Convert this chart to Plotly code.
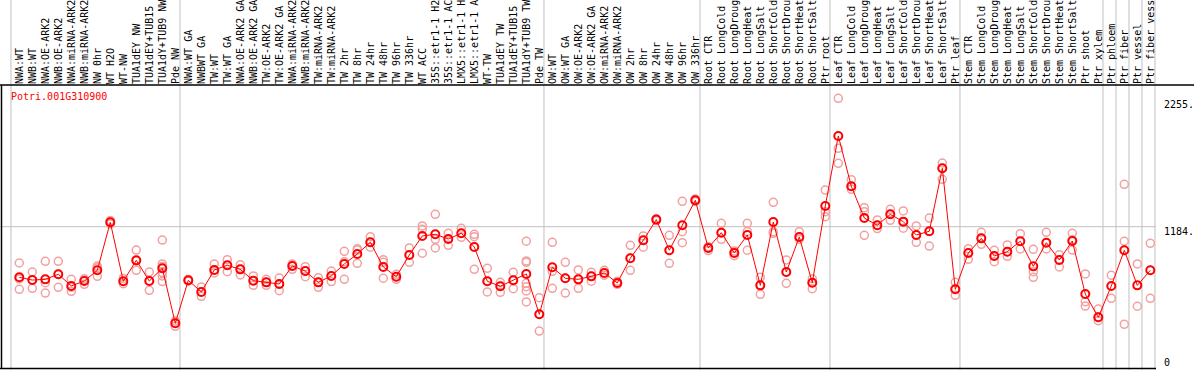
import plotly.graph_objects as go

gene_title = "Potri.001G310900"

labels = [
    "NWA:WT", "NWB:WT", "NWA:OE-ARK2", "NWB:OE-ARK2", "NWA:miRNA-ARK2", "NWB:miRNA-ARK2",
    "NW 0hr", "WT H2O", "WT-NW", "TUA1dEY NW", "TUA1dEY+TUB15", "TUA1dY+TUB9 NW", "Pde NW",
    "NWA:WT GA", "NWBWT GA", "TW:WT", "TW:WT GA", "NWA:OE-ARK2 GA", "NWB:OE-ARK2 GA",
    "TW:OE-ARK2", "TW:OE-ARK2 GA", "NWA:miRNA-ARK2", "NWB:miRNA-ARK2", "TW:miRNA-ARK2",
    "TW:miRNA-ARK2", "TW 2hr", "TW 8hr", "TW 24hr", "TW 48hr", "TW 96hr", "TW 336hr", "WT ACC",
    "35S::etr1-1 H2O", "35S::etr1-1 ACC", "LMX5::etr1-1 H2O", "LMX5::etr1-1 ACC", "WT-TW",
    "TUA1dEY TW", "TUA1dEY+TUB15", "TUA1dY+TUB9 TW", "Pde TW",
    "OW:WT", "OW:WT GA", "OW:OE-ARK2", "OW:OE-ARK2 GA", "OW:miRNA-ARK2", "OW:miRNA-ARK2",
    "OW 2hr", "OW 8hr", "OW 24hr", "OW 48hr", "OW 96hr", "OW 336hr",
    "Root CTR", "Root LongCold", "Root LongDrought", "Root LongHeat", "Root LongSalt",
    "Root ShortCold", "Root ShortDrought", "Root ShortHeat", "Root ShortSalt", "Ptr root",
    "Leaf CTR", "Leaf LongCold", "Leaf LongDrought", "Leaf LongHeat", "Leaf LongSalt",
    "Leaf ShortCold", "Leaf ShortDrought", "Leaf ShortHeat", "Leaf ShortSalt", "Ptr leaf",
    "Stem CTR", "Stem LongCold", "Stem LongDrought", "Stem LongHeat", "Stem LongSalt",
    "Stem ShortCold", "Stem ShortDrought", "Stem ShortHeat", "Stem ShortSalt", "Ptr shoot",
    "Ptr xylem", "Ptr phloem", "Ptr fiber", "Ptr vessel", "Ptr fiber vessel",
]

group_sizes = [13, 28, 12, 10, 10, 11, 1, 1, 1, 1]

means = [
    763, 740, 746, 788, 691, 732, 821, 1221, 730, 904, 732, 838, 380,
    738, 641, 824, 863, 829, 735, 721, 707, 857, 815, 721, 774, 874, 957, 1054, 849, 768,
    949, 1107, 1121, 1082, 1129, 1015, 730, 688, 738, 791, 455,
    846, 755, 746, 771, 799, 716, 921, 1071, 1243, 988, 1196, 1404,
    1007, 1134, 965, 1115, 696, 1223, 807, 1098, 718, 1356,
    1939, 1520, 1256, 1196, 1287, 1226, 1115, 1146, 1670, 663,
    965, 1087, 940, 976, 1063, 854, 1051, 907, 1065, 624, 430,
    691, 988, 696, 821,
]

replicates = [
    [882, 749, 663], [807, 742, 671], [896, 718, 632], [896, 788, 680], [746, 680, 646],
    [751, 740, 705], [857, 843, 771], [1235, 1221, 1207], [754, 730, 710], [990, 901, 821],
    [807, 734, 655], [1073, 874, 852, 802, 774, 727], [400, 380, 355],
    [745, 735, 730], [682, 641, 605], [874, 824, 799], [910, 863, 810], [868, 829, 782],
    [774, 735, 696], [746, 721, 696], [757, 707, 652], [874, 857, 829], [851, 815, 768],
    [760, 721, 680], [815, 774, 727], [979, 893, 746], [1001, 990, 879], [1101, 1054, 1013],
    [910, 888, 755], [788, 768, 746], [1007, 949, 888], [1190, 1162, 963], [1287, 1079, 1007],
    [1129, 1082, 1029], [1171, 1129, 1096], [1121, 1101, 829], [838, 730, 641],
    [721, 688, 638], [805, 738, 668], [1063, 899, 888, 713, 685, 649, 558], [593, 455, 316],
    [1054, 813, 671], [888, 755, 632], [824, 746, 671], [805, 771, 730], [821, 799, 780],
    [730, 716, 705], [1029, 921, 821], [1107, 1071, 1013], [1250, 1243, 1235],
    [1112, 988, 879], [1395, 1143, 1051], [1415, 1404, 1393],
    [1018, 1007, 985], [1212, 1134, 1079], [982, 965, 943], [1212, 1145, 988],
    [763, 696, 621], [1387, 1143, 1129], [907, 807, 713], [1143, 1098, 1079],
    [751, 718, 668], [1489, 1309, 1267],
    [2252, 1836, 1711], [1575, 1520, 1495], [1342, 1309, 1112], [1240, 1196, 1168],
    [1329, 1287, 1237], [1315, 1226, 1171], [1190, 1115, 1054], [1256, 1146, 1023],
    [1714, 1670, 1578], [721, 663, 613],
    [1001, 965, 913], [1137, 1087, 1037], [988, 940, 893], [1032, 976, 938],
    [1126, 1063, 999], [996, 810, 763], [1137, 1051, 999], [951, 907, 849],
    [1129, 1075, 990], [791, 560, 524], [499, 430, 402],
    [780, 588], [1537, 1063, 372], [874, 522], [1046, 588],
]

y_ticks = [0, 1184, 2255]
y_tick_text = ["0", "1184.", "2255."]

# ---------------- figure ----------------
W, H = 1194, 370
ML, MR, MT, MB = 2, 38, 85, 1
plot_w = W - ML - MR
plot_h = H - MT - MB
px_per_cat = 13.0
first_center_px = 19.3
x0 = (ML - first_center_px) / px_per_cat
x1 = x0 + plot_w / px_per_cat
y_top = 2363

FONT = "DejaVu Sans Mono"
RED = "#ff0000"
PINK = "#f2a0a0"
GRID = "#c0c0c0"

idx = list(range(len(labels)))
rx, ry = [], []
for i, reps in enumerate(replicates):
    for v in reps:
        rx.append(i)
        ry.append(v)

fig = go.Figure()
fig.add_trace(go.Scatter(
    x=rx, y=ry, mode="markers",
    marker=dict(symbol="circle-open", size=8, color=PINK, line=dict(width=1.5, color=PINK)),
    hoverinfo="skip", showlegend=False, cliponaxis=False,
))
fig.add_trace(go.Scatter(
    x=idx, y=means, mode="lines+markers",
    line=dict(color=RED, width=1),
    marker=dict(symbol="circle-open", size=8, color=RED, line=dict(width=2, color=RED)),
    showlegend=False,
))

shapes = []
top_paper = (H - MB) / plot_h
b = 0
bounds = [0]
for g in group_sizes:
    b += g
    bounds.append(b)
for bd in bounds:
    xv = bd - 0.5 - 0.14
    shapes.append(dict(type="line", xref="x", yref="paper", x0=xv, x1=xv, y0=-0.01, y1=top_paper + 0.01,
                       line=dict(color=GRID, width=1), layer="below"))
shapes.append(dict(type="line", xref="paper", yref="y", x0=-ML / plot_w, x1=1, y0=y_ticks[1], y1=y_ticks[1],
                   line=dict(color=GRID, width=1), layer="below"))
shapes.append(dict(type="line", xref="paper", yref="paper", x0=-ML / plot_w, x1=1 + MR / plot_w, y0=1, y1=1,
                   line=dict(color="black", width=1.5)))
shapes.append(dict(type="line", xref="paper", yref="paper", x0=-0.5 / plot_w, x1=-0.5 / plot_w, y0=0, y1=1,
                   line=dict(color="black", width=1.5)))
shapes.append(dict(type="line", xref="paper", yref="paper", x0=-ML / plot_w, x1=1, y0=0.002, y1=0.002,
                   line=dict(color="black", width=1.5)))

annotations = [
    dict(text=gene_title, xref="paper", yref="paper", x=(9 - ML) / plot_w, y=1 - (97 - MT) / plot_h,
         xanchor="left", yanchor="middle", showarrow=False, font=dict(family=FONT, size=10, color=RED)),
]
label_shift = [7, -5, -7]
for v, t, s in zip(y_ticks, y_tick_text, label_shift):
    annotations.append(dict(text=t, xref="paper", yref="y", x=1 + 6 / plot_w, y=v, yshift=s,
                            xanchor="left", yanchor="middle", showarrow=False,
                            font=dict(family=FONT, size=10, color="black")))

fig.update_layout(
    width=W, height=H,
    margin=dict(l=ML, r=MR, t=MT, b=MB, pad=0, autoexpand=False),
    paper_bgcolor="white", plot_bgcolor="white",
    shapes=shapes, annotations=annotations,
    xaxis=dict(range=[x0, x1], side="top", tickmode="array", tickvals=idx, ticktext=labels,
               tickangle=-90, tickfont=dict(family=FONT, size=10, color="black"),
               ticks="", showgrid=False, zeroline=False, showline=False, fixedrange=True,
               automargin=False),
    yaxis=dict(range=[0, y_top], showticklabels=False, ticks="", showgrid=False,
               zeroline=False, showline=False, fixedrange=True, automargin=False),
)

fig.write_html(
    "out.html",
    config={"displayModeBar": False},
    post_script="document.body.style.margin='0';document.body.style.padding='0';",
)
